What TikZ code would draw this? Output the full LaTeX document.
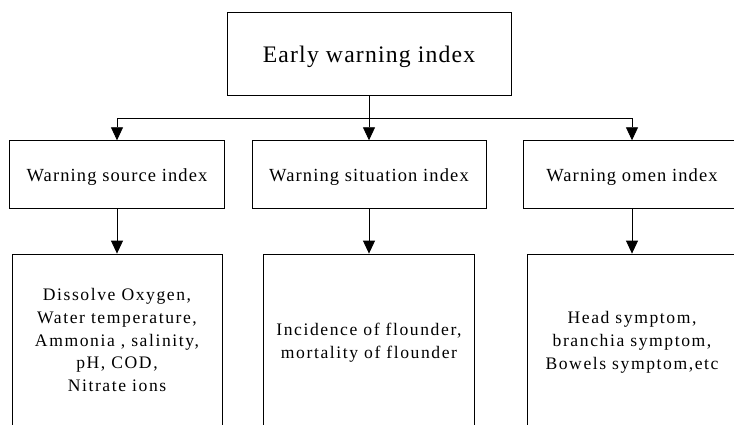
\documentclass[tikz,border=0pt]{standalone}
\usepackage{fontspec}
\setmainfont{Liberation Serif}[Ligatures=NoCommon]
\usetikzlibrary{arrows.meta}

\tikzset{
  box/.style={draw, line width=0.8pt, align=center, inner sep=0pt},
  arr/.style={-{Triangle[width=12pt,length=13pt]}, line width=0.8pt},
  toptext/.style={text height=16.2pt, text depth=0pt, font=\fontsize{23.7}{28}\selectfont\addfontfeatures{LetterSpace=5}},
  headtext/.style={text height=14pt, text depth=0pt, font=\fontsize{18.5}{22}\selectfont\addfontfeatures{LetterSpace=6}},
  listtext/.style={font=\fontsize{17.6}{22.8}\selectfont\addfontfeatures{LetterSpace=9}}
}

\begin{document}
\begin{tikzpicture}[x=1pt,y=-1pt]
\useasboundingbox (0,0) rectangle (734,425);
\clip (0,0) rectangle (734,425);
% top of the tree
\node[box, toptext, minimum width=284pt, minimum height=83pt] (early) at (369,54.2) {Early warning index};
% three kinds of index
\foreach \n/\x/\w/\t in {source/117/215/Warning source index,
                         situation/369/234/Warning situation index,
                         omen/632/218/Warning omen index}
  \node[box, headtext, minimum width=\w pt, minimum height=67.6pt] (\n) at (\x,174.5) {\t};
% what each index is made of
\node[box, listtext, minimum width=210pt, minimum height=172pt] (source-list) at (117,340)
  {Dissolve Oxygen,\\Water temperature,\\Ammonia , salinity,\\pH, COD,\\Nitrate ions};
\node[box, listtext, minimum width=211pt, minimum height=177pt] (situation-list) at (369,342.5)
  {Incidence of flounder,\\mortality of flounder};
\node[box, listtext, minimum width=210pt, minimum height=177pt] (omen-list) at (632,342.5)
  {Head symptom,\\branchia symptom,\\Bowels symptom,etc};
% connectors
\coordinate (fork) at (369,118.3);
\draw[line width=0.8pt] (early.south) -- (fork);
\draw[line width=0.8pt] (fork -| source.north) -- (fork -| omen.north);
\foreach \n in {source,situation,omen} {
  \draw[arr] (fork -| \n.north) -- (\n.north);
  \draw[arr] (\n.south) -- (\n-list.north);
}
\end{tikzpicture}
\end{document}
